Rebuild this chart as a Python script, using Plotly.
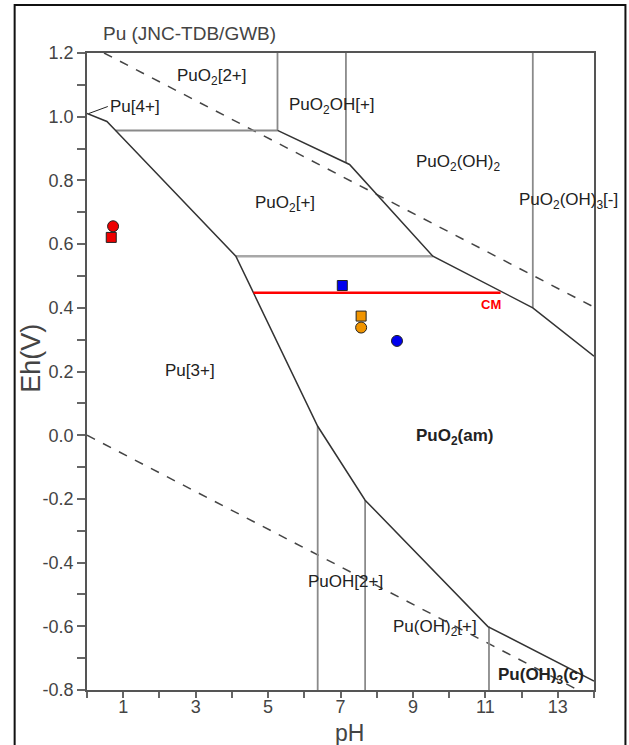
import plotly.graph_objects as go

# ---------------- data ----------------
# solid phase-boundary lines (pH, Eh)
lower_bound_ph = [0.0, 0.55, 0.79, 4.11, 6.37, 7.68, 11.07, 14.0]
lower_bound_eh = [1.01, 0.985, 0.957, 0.562, 0.028, -0.204, -0.601, -0.772]
upper_bound_ph = [5.26, 7.25, 9.55, 12.31, 14.0]
upper_bound_eh = [0.957, 0.850, 0.562, 0.400, 0.248]

# gray boundary lines
h_line1_ph = [0.79, 5.26]; h_line1_eh = [0.957, 0.957]
h_line2_ph = [4.11, 9.55]; h_line2_eh = [0.562, 0.562]
vert_ph = [5.26, 7.15, 12.31, 6.37, 7.68, 11.1]
vert_top = [1.2, 1.2, 1.2, 0.028, -0.204, -0.601]
vert_bot = [0.957, 0.855, 0.400, -0.8, -0.8, -0.8]

# water stability limits (dashed)
water_up_ph = [0.47, 14.0]; water_up_eh = [1.20, 0.402]
water_lo_ph = [0.0, 13.56]; water_lo_eh = [0.0, -0.80]

# CM line
cm_ph = [4.6, 11.42]; cm_eh = [0.447, 0.447]

# measured points
circ_ph = [0.72, 7.57, 8.56]
circ_eh = [0.656, 0.338, 0.296]
circ_col = ["#ee0000", "#f09400", "#0000ee"]
sq_ph = [0.67, 7.57, 7.05]
sq_eh = [0.621, 0.374, 0.470]
sq_col = ["#ee0000", "#f09400", "#0000ee"]

# species labels
lab_text = ["PuO<sub>2</sub>[2+]", "PuO<sub>2</sub>OH[+]", "PuO<sub>2</sub>(OH)<sub>2</sub>",
            "PuO<sub>2</sub>(OH)<sub>3</sub>[-]", "PuO<sub>2</sub>[+]", "Pu[3+]",
            "<b>PuO<sub>2</sub>(am)</b>", "PuOH[2+]", "Pu(OH)<sub>2</sub>[+]",
            "<b>Pu(OH)<sub>3</sub>(c)</b>"]
lab_ph = [3.46, 6.77, 10.25, 13.3, 5.46, 2.85, 10.14, 7.13, 9.6, 12.53]
lab_eh = [1.124, 1.033, 0.854, 0.736, 0.727, 0.204, -0.007, -0.46, -0.605, -0.756]

y_ticks = [-0.8, -0.6, -0.4, -0.2, 0.0, 0.2, 0.4, 0.6, 0.8, 1.0, 1.2]
y_minor = [-0.7, -0.5, -0.3, -0.1, 0.1, 0.3, 0.5, 0.7, 0.9, 1.1]
x_ticks = [1, 3, 5, 7, 9, 11, 13]
x_minor = [0, 2, 4, 6, 8, 10, 12, 14]

FONT = "Liberation Sans, Arial"

fig = go.Figure()

dark = "#333333"
gray = "#8a8a8a"

def line(xs, ys, color, width=1.5, dash=None):
    fig.add_trace(go.Scatter(x=xs, y=ys, mode="lines",
                             line=dict(color=color, width=width, dash=dash),
                             hoverinfo="skip", showlegend=False))

line(water_up_ph, water_up_eh, "#444444", 1.5, "dash")
line(water_lo_ph, water_lo_eh, "#444444", 1.5, "dash")
line(h_line1_ph, h_line1_eh, gray, 2)
line(h_line2_ph, h_line2_eh, "#a8a8a8", 2.5)
for p, t, b in zip(vert_ph, vert_top, vert_bot):
    line([p, p], [t, b], gray, 1.8)
line(lower_bound_ph, lower_bound_eh, dark, 1.5)
line(upper_bound_ph, upper_bound_eh, dark, 1.5)
line(cm_ph, cm_eh, "#ff0000", 2.5)

fig.add_trace(go.Scatter(x=sq_ph, y=sq_eh, mode="markers",
                         marker=dict(symbol="square", size=10, color=sq_col,
                                     line=dict(color="#222222", width=1)),
                         hoverinfo="skip", showlegend=False))
fig.add_trace(go.Scatter(x=circ_ph, y=circ_eh, mode="markers",
                         marker=dict(symbol="circle", size=11, color=circ_col,
                                     line=dict(color="#222222", width=1)),
                         hoverinfo="skip", showlegend=False))

annotations = []
for t, x, y in zip(lab_text, lab_ph, lab_eh):
    annotations.append(dict(x=x, y=y, xref="x", yref="y", text=t, showarrow=False,
                            xanchor="center", yanchor="middle",
                            font=dict(family=FONT, size=17, color="#222222")))
# Pu[4+] with arrow
annotations.append(dict(x=0.05, y=1.01, xref="x", yref="y", text="Pu[4+]",
                        showarrow=True, arrowhead=0, arrowwidth=1, arrowcolor="#222222",
                        ax=19, ay=-7, xanchor="left", yanchor="middle",
                        font=dict(family=FONT, size=17, color="#222222")))
annotations.append(dict(x=11.15, y=0.41, xref="x", yref="y", text="<b>CM</b>",
                        showarrow=False, xanchor="center", yanchor="middle",
                        font=dict(family=FONT, size=13, color="#ff0000")))
# title
annotations.append(dict(x=(189 - 86.5) / 508, y=(690 - 33) / 637.3, xref="paper", yref="paper",
                        text="Pu (JNC-TDB/GWB)", showarrow=False,
                        xanchor="center", yanchor="middle",
                        font=dict(family=FONT, size=19, color="#444444")))
# axis titles
annotations.append(dict(x=(31 - 86.5) / 508, y=(690 - 358) / 637.3, xref="paper", yref="paper",
                        text="Eh(V)", textangle=-90, showarrow=False,
                        xanchor="center", yanchor="middle",
                        font=dict(family=FONT, size=27, color="#444444")))
annotations.append(dict(x=(350 - 86.5) / 508, y=(690 - 733) / 637.3, xref="paper", yref="paper",
                        text="pH", showarrow=False,
                        xanchor="center", yanchor="middle",
                        font=dict(family=FONT, size=23, color="#444444")))

fig.update_layout(
    width=629, height=745,
    margin=dict(l=86.5, r=34.5, t=52.7, b=55),
    paper_bgcolor="white", plot_bgcolor="white",
    annotations=annotations,
    shapes=[dict(type="rect", xref="paper", yref="paper",
                 x0=(14 - 86.5) / 508, x1=(626 - 86.5) / 508,
                 y0=-0.2, y1=(690 - 4.7) / 637.3,
                 line=dict(color="#111111", width=2), layer="below")],
    xaxis=dict(range=[0, 14], showgrid=False, zeroline=False,
               showline=True, mirror=True, linecolor="#555555", linewidth=1.5,
               tickmode="array", tickvals=x_ticks, ticktext=[str(v) for v in x_ticks],
               ticks="outside", ticklen=6, tickwidth=1.5, tickcolor="#666666",
               ticklabelstandoff=-6,
               minor=dict(tickmode="array", tickvals=x_minor, ticks="outside",
                          ticklen=6, tickwidth=1.5, tickcolor="#666666"),
               tickfont=dict(family=FONT, size=18, color="#444444")),
    yaxis=dict(range=[-0.8, 1.2], showgrid=False, zeroline=False,
               showline=True, mirror=True, linecolor="#555555", linewidth=1.5,
               tickmode="array", tickvals=y_ticks, ticktext=[f"{v:.1f}" for v in y_ticks],
               ticks="outside", ticklen=8, tickwidth=1.5, tickcolor="#666666",
               minor=dict(tickmode="array", tickvals=y_minor, ticks="outside",
                          ticklen=8, tickwidth=1.5, tickcolor="#666666"),
               tickfont=dict(family=FONT, size=18, color="#444444")),
)

fig.write_html("out.html", config={"displayModeBar": False},
               post_script="document.body.style.margin='0px';")
